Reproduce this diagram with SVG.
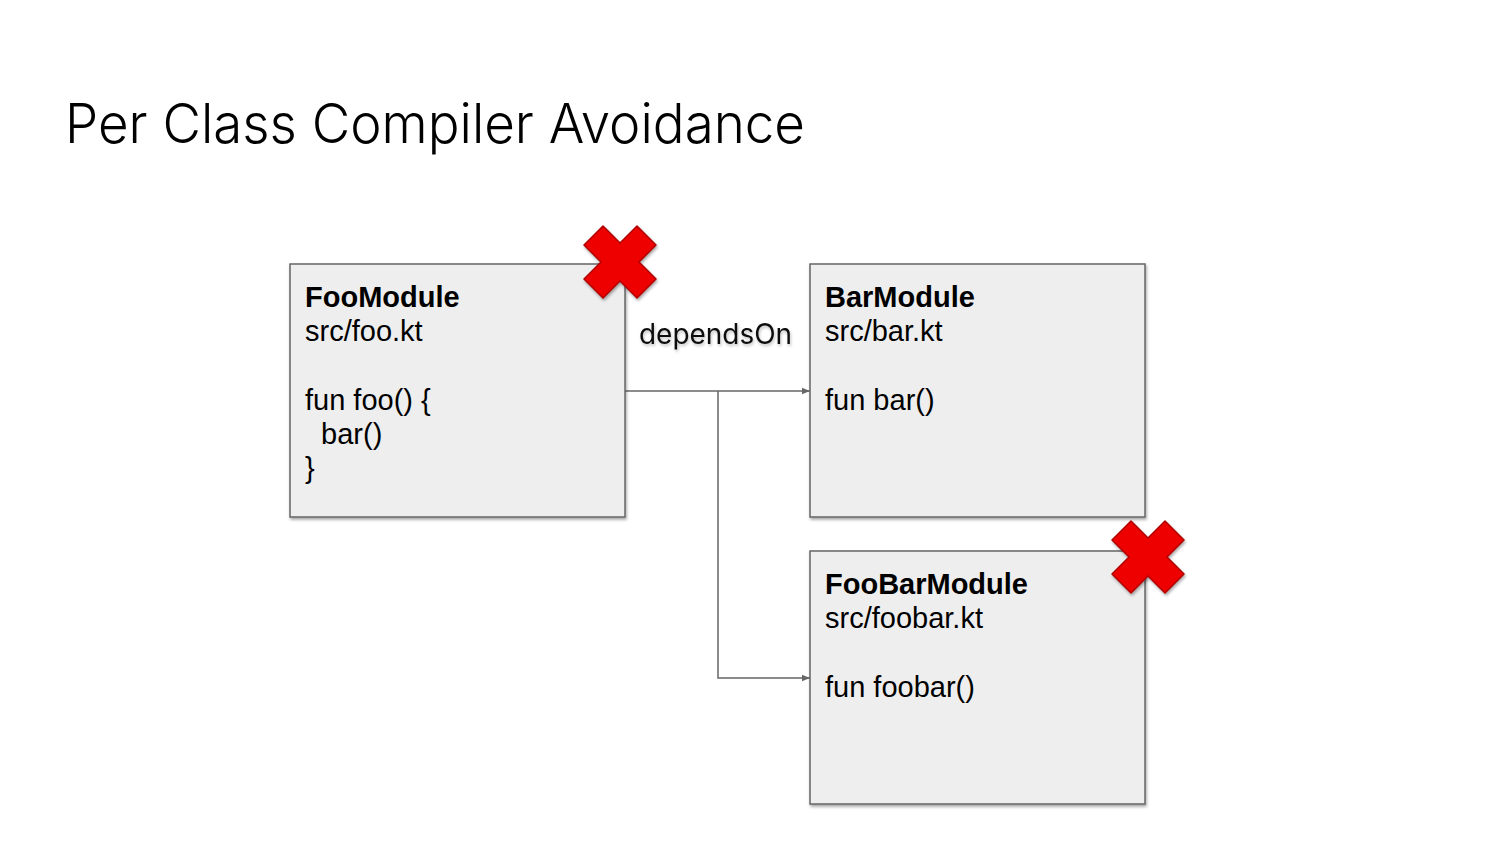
<svg xmlns="http://www.w3.org/2000/svg" width="1500" height="844" viewBox="0 0 1500 844">
  <defs>
    <filter id="sh" x="-10%" y="-10%" width="130%" height="130%">
      <feDropShadow dx="1" dy="2" stdDeviation="1.5" flood-color="#000" flood-opacity="0.35"/>
    </filter>
    <filter id="tsh" x="-10%" y="-30%" width="130%" height="160%">
      <feDropShadow dx="1" dy="2" stdDeviation="1.5" flood-color="#000" flood-opacity="0.25"/>
    </filter>
    <marker id="arr" viewBox="0 0 10 10" refX="10" refY="5" markerWidth="8" markerHeight="8" markerUnits="userSpaceOnUse" orient="auto">
      <path d="M0,1 L10,5 L0,9 z" fill="#666"/>
    </marker>
    <polygon id="xmark" points="-36,-17 -17,-36 0,-19 17,-36 36,-17 19,0 36,17 17,36 0,19 -17,36 -36,17 -19,0" fill="#ee0000" stroke="#b00000" stroke-width="1.5" stroke-linejoin="round"/>
  </defs>
  <style>
    .box { fill: #eeeeee; stroke: #666666; stroke-width: 1.5; }
    .t { font-family: "Liberation Sans", Arial, sans-serif; font-size: 29px; fill: #000; }
    .b { font-weight: bold; }
    .title { font-family: Inter, "Open Sans", sans-serif; font-size: 55px; font-weight: 300; fill: #000; }
    .lbl { font-family: Inter, "Open Sans", sans-serif; font-size: 28px; fill: #111; }
    .conn { stroke: #666666; stroke-width: 1.5; fill: none; }
  </style>
  <rect width="1500" height="844" fill="#ffffff"/>
  <text class="title" x="65" y="143" textLength="740" lengthAdjust="spacingAndGlyphs">Per Class Compiler Avoidance</text>

  <g id="connectors">
    <line class="conn" x1="625" y1="391" x2="810" y2="391" marker-end="url(#arr)"/>
    <polyline class="conn" points="718,391 718,678 810,678" marker-end="url(#arr)"/>
    <text class="lbl" x="639" y="344" textLength="153" lengthAdjust="spacingAndGlyphs" filter="url(#tsh)">dependsOn</text>
  </g>

  <g id="foo">
    <rect class="box" x="290" y="264" width="335" height="253" filter="url(#sh)"/>
    <text class="t b" x="305" y="307">FooModule</text>
    <text class="t" x="305" y="341">src/foo.kt</text>
    <text class="t" x="305" y="410">fun foo() {</text>
    <text class="t" x="305" y="444" xml:space="preserve">  bar()</text>
    <text class="t" x="305" y="478">}</text>
  </g>

  <g id="bar">
    <rect class="box" x="810" y="264" width="335" height="253" filter="url(#sh)"/>
    <text class="t b" x="825" y="307">BarModule</text>
    <text class="t" x="825" y="341">src/bar.kt</text>
    <text class="t" x="825" y="410">fun bar()</text>
  </g>

  <g id="foobar">
    <rect class="box" x="810" y="551" width="335" height="253" filter="url(#sh)"/>
    <text class="t b" x="825" y="594">FooBarModule</text>
    <text class="t" x="825" y="628">src/foobar.kt</text>
    <text class="t" x="825" y="697">fun foobar()</text>
  </g>

  <g id="x1" transform="translate(620,262)" filter="url(#sh)"><use href="#xmark"/></g>
  <g id="x2" transform="translate(1148,557)" filter="url(#sh)"><use href="#xmark"/></g>
</svg>
